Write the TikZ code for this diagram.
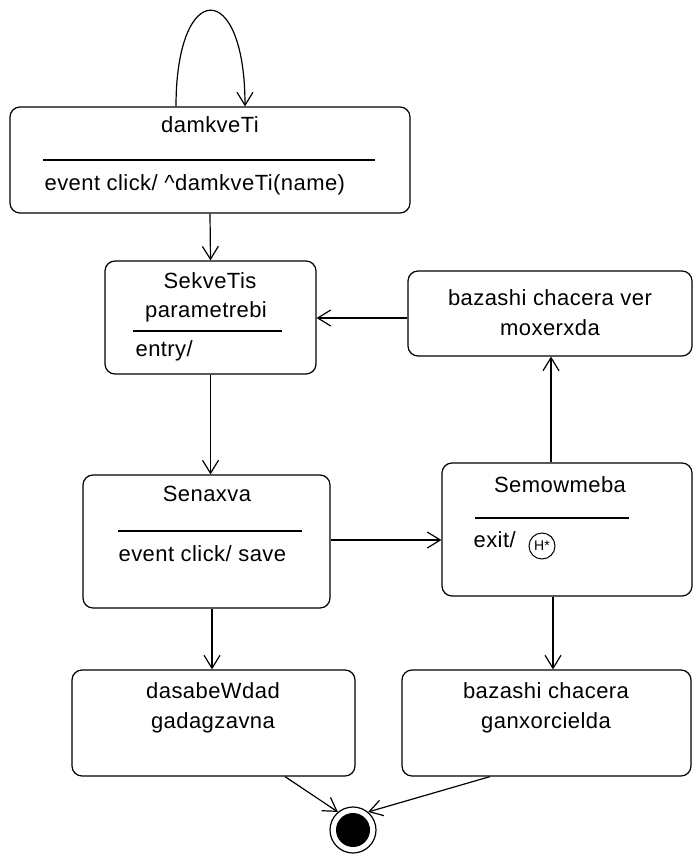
\documentclass[tikz,border=0pt]{standalone}
\usepackage{fontspec}
\setmainfont[LetterSpace=2]{Liberation Sans}
\usetikzlibrary{arrows.meta}
\begin{document}
\begin{tikzpicture}[x=1pt,y=-1pt,
  font=\fontsize{22}{24}\selectfont,
  line width=1.2pt,
  state/.style={draw,rounded corners=10pt,inner sep=0pt},
  lbl/.style={inner sep=0pt,anchor=center},
  lbll/.style={inner sep=0pt,anchor=west},
  tr/.style={-{Straight Barb[length=13pt,width=16pt,line width=1.2pt]}},
  sep/.style={line width=1.2pt}]
\useasboundingbox[fill=white] (0,0) rectangle (698,856);
% states
\node[state,minimum width=400pt,minimum height=106pt] (A) at (210,160) {};
\node[lbl] (At) at (210,125) {damkveTi};
\draw[sep] (43,160) -- (375,160);
\node[lbll] (Ab) at (44,185) {event click/ \textasciicircum damkveTi(name)};

\node[state,minimum width=211pt,minimum height=113pt] (B) at (210.5,317.5) {};
\node[lbl] (Bt1) at (210,281) {SekveTis};
\node[lbl] (Bt2) at (206,312) {parametrebi};
\draw[sep] (133,331) -- (282,331);
\node[lbll] (Bb) at (135,351) {entry/};

\node[state,minimum width=284pt,minimum height=85pt] (C) at (550,313.5) {};
\node[lbl] (Ct1) at (550,298) {bazashi chacera ver};
\node[lbl] (Ct2) at (550,328) {moxerxda};

\node[state,minimum width=247pt,minimum height=133pt] (D) at (206.5,541.5) {};
\node[lbl] (Dt) at (207,494) {Senaxva};
\draw[sep] (118,531) -- (302,531);
\node[lbll] (Db) at (118,554) {event click/ save};

\node[state,minimum width=250pt,minimum height=133pt] (E) at (567,529.5) {};
\node[lbl] (Et) at (560,485) {Semowmeba};
\draw[sep] (475,518) -- (629,518);
\node[lbll] (Eb) at (473,540) {exit/};
\node[draw,circle,minimum size=26pt,inner sep=0pt,line width=1pt,font=\fontsize{14}{14}\selectfont] (H) at (542,546) {H*};

\node[state,minimum width=283pt,minimum height=106pt] (F) at (213.5,723) {};
\node[lbl] (Ft1) at (213,691) {dasabeWdad};
\node[lbl] (Ft2) at (213,723) {gadagzavna};

\node[state,minimum width=289pt,minimum height=106pt] (G) at (546.5,723) {};
\node[lbl] (Gt1) at (546,691) {bazashi chacera};
\node[lbl] (Gt2) at (546,723) {ganxorcielda};

\node[draw,circle,minimum size=46pt,inner sep=0pt] (Z) at (353,830) {};
\node[fill=black,circle,minimum size=34pt,inner sep=0pt] (Zi) at (Z) {};

% transitions
\draw[tr] ([xshift=-34pt]A.north) .. controls +(0,-128) and +(0,-128) .. ([xshift=35pt]A.north);
\draw[tr] (A.south) -- (B.north);
\draw[tr] (C.west |- 0,318) -- (B.east |- 0,318);
\draw[tr] (B.south) -- (B.south |- D.north);
\draw[tr] (D.east |- 0,540) -- (E.west |- 0,540);
\draw[tr] (E.north -| 551,0) -- (C.south -| 551,0);
\draw[tr] (D.south -| 212,0) -- (F.north -| 212,0);
\draw[tr] (E.south -| 553,0) -- (G.north -| 553,0);
\draw[tr] (F.south -| 285,0) -- (Z.130);
\draw[tr] (G.south -| 490,0) -- (Z.50);
\end{tikzpicture}
\end{document}
